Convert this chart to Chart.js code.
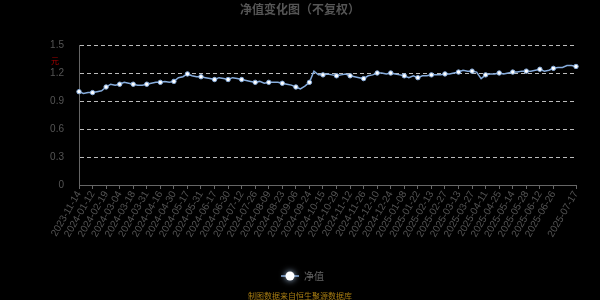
<!DOCTYPE html>
<html>
<head>
<meta charset="utf-8">
<script src="https://cdn.jsdelivr.net/npm/chart.js@4.4.1/dist/chart.umd.min.js"></script>
<style>
  html, body { margin: 0; padding: 0; background: #000; }
  #wrap { width: 600px; height: 300px; position: relative; }
</style>
</head>
<body>
<div id="wrap"><canvas id="myChart" width="600" height="300"></canvas></div>
<script>
// datas (uma a cada ponto da linha)
const datas = [
  '2023-11-14', '2023-12-05', '2023-12-22',
  '2024-01-12', '2024-01-25', '2024-02-05',
  '2024-02-19', '2024-02-23', '2024-02-28',
  '2024-03-04', '2024-03-08', '2024-03-13',
  '2024-03-18', '2024-03-22', '2024-03-27',
  '2024-03-31', '2024-04-07', '2024-04-11',
  '2024-04-16', '2024-04-21', '2024-04-25',
  '2024-04-30', '2024-05-09', '2024-05-13',
  '2024-05-17', '2024-05-22', '2024-05-27',
  '2024-05-31', '2024-06-05', '2024-06-12',
  '2024-06-17', '2024-06-21', '2024-06-26',
  '2024-06-30', '2024-07-04', '2024-07-08',
  '2024-07-12', '2024-07-17', '2024-07-22',
  '2024-07-26', '2024-07-31', '2024-08-05',
  '2024-08-09', '2024-08-14', '2024-08-19',
  '2024-08-23', '2024-08-28', '2024-09-02',
  '2024-09-06', '2024-09-11', '2024-09-19',
  '2024-09-24', '2024-09-27', '2024-10-10',
  '2024-10-15', '2024-10-18', '2024-10-24',
  '2024-10-29', '2024-11-01', '2024-11-07',
  '2024-11-12', '2024-11-15', '2024-11-21',
  '2024-11-26', '2024-11-29', '2024-12-05',
  '2024-12-10', '2024-12-13', '2024-12-19',
  '2024-12-24', '2024-12-27', '2025-01-03',
  '2025-01-08', '2025-01-13', '2025-01-17',
  '2025-01-22', '2025-02-05', '2025-02-10',
  '2025-02-13', '2025-02-18', '2025-02-24',
  '2025-02-27', '2025-03-04', '2025-03-07',
  '2025-03-13', '2025-03-18', '2025-03-21',
  '2025-03-27', '2025-04-01', '2025-04-07',
  '2025-04-11', '2025-04-16', '2025-04-21',
  '2025-04-25', '2025-05-06', '2025-05-09',
  '2025-05-14', '2025-05-19', '2025-05-23',
  '2025-05-28', '2025-06-04', '2025-06-09',
  '2025-06-12', '2025-06-17', '2025-06-20',
  '2025-06-26', '2025-06-30', '2025-07-03', '2025-07-08', '2025-07-11', '2025-07-17'
];

// datas que aparecem no eixo x
const rotulosX = [
  '2023-11-14', '2024-01-12', '2024-02-19', '2024-03-04', '2024-03-18', '2024-03-31',
  '2024-04-16', '2024-04-30', '2024-05-17', '2024-05-31', '2024-06-17', '2024-06-30',
  '2024-07-12', '2024-07-26', '2024-08-09', '2024-08-23', '2024-09-06', '2024-09-24',
  '2024-10-15', '2024-10-29', '2024-11-12', '2024-11-26', '2024-12-10', '2024-12-24',
  '2025-01-08', '2025-01-22', '2025-02-13', '2025-02-27', '2025-03-13', '2025-03-27',
  '2025-04-11', '2025-04-25', '2025-05-14', '2025-05-28', '2025-06-12', '2025-06-26',
  '2025-07-17'
];

// valores do patrimônio líquido (净值)
const valores = [
  1.00, 0.98, 0.99,
  0.99, 1.00, 1.01,
  1.05, 1.08, 1.07,
  1.08, 1.10, 1.09,
  1.08, 1.07, 1.07,
  1.08, 1.09, 1.10,
  1.10, 1.11, 1.10,
  1.11, 1.15, 1.16,
  1.19, 1.17, 1.16,
  1.16, 1.15, 1.14,
  1.13, 1.15, 1.14,
  1.13, 1.15, 1.14,
  1.13, 1.12, 1.11,
  1.10, 1.11, 1.09,
  1.10, 1.10, 1.10,
  1.09, 1.08, 1.07,
  1.05, 1.03, 1.06,
  1.10, 1.22, 1.18,
  1.18, 1.19, 1.18,
  1.17, 1.18, 1.19,
  1.17, 1.16, 1.15,
  1.14, 1.17, 1.18,
  1.20, 1.20, 1.19,
  1.20, 1.19, 1.18,
  1.17, 1.15, 1.17,
  1.15, 1.17, 1.17,
  1.18, 1.18, 1.18,
  1.19, 1.19, 1.20,
  1.21, 1.23, 1.22,
  1.22, 1.21, 1.14,
  1.18, 1.19, 1.19,
  1.20, 1.19, 1.20,
  1.21, 1.21, 1.22,
  1.22, 1.22, 1.23,
  1.24, 1.22, 1.23,
  1.25, 1.26, 1.26, 1.28, 1.28, 1.27
];

const ticksY = [0, 0.3, 0.6, 0.9, 1.2, 1.5];

const corLinha = '#86acdc';

// textos extras: título, unidade, legenda e fonte
const textosExtras = {
  id: 'textosExtras',
  afterDraw(chart) {
    const c = chart.ctx;
    c.save();
    c.textAlign = 'center';
    c.textBaseline = 'middle';
    c.fillStyle = '#555';
    c.font = 'bold 12px "Noto Sans CJK SC", sans-serif';
    c.fillText('净值变化图（不复权）', 300, 9);

    c.fillStyle = '#a00';
    c.font = '8px "Noto Sans CJK SC", sans-serif';
    c.fillText('元', 55, 61);

    // legenda
    c.strokeStyle = corLinha;
    c.lineWidth = 1.5;
    c.beginPath();
    c.moveTo(281, 276);
    c.lineTo(299, 276);
    c.stroke();
    c.shadowColor = 'rgba(190,220,255,0.9)';
    c.shadowBlur = 6;
    c.fillStyle = '#fff';
    c.beginPath();
    c.arc(290, 276, 4.5, 0, Math.PI * 2);
    c.fill();
    c.shadowBlur = 0;
    c.fillStyle = '#666';
    c.textAlign = 'left';
    c.font = '10px "Noto Sans CJK SC", sans-serif';
    c.fillText('净值', 304, 276);

    c.textAlign = 'center';
    c.fillStyle = '#a87d12';
    c.font = '8px "Noto Sans CJK SC", sans-serif';
    c.fillText('制图数据来自恒生聚源数据库', 300, 296);
    c.restore();
  }
};

const ctx = document.getElementById('myChart');

const myChart = new Chart(ctx, {
  type: 'line',
  data: {
    labels: datas,
    datasets: [{
      label: '净值',
      data: valores,
      borderColor: corLinha,
      borderWidth: 1.5,
      pointRadius: c => (rotulosX.includes(datas[c.dataIndex]) ? 2.2 : 0),
      pointBackgroundColor: '#fff',
      pointBorderColor: corLinha,
      pointBorderWidth: 1,
      tension: 0
    }]
  },
  options: {
    responsive: false,
    animation: false,
    layout: { padding: { top: 45, right: 24, left: 0, bottom: 0 } },
    plugins: { legend: { display: false }, tooltip: { enabled: false } },
    scales: {
      x: {
        ticks: {
          autoSkip: false,
          minRotation: 60,
          maxRotation: 60,
          color: '#555',
          font: { size: 10, family: 'Liberation Sans' },
          padding: 0
        },
        afterBuildTicks: s => {
          s.ticks = s.ticks.filter(t => rotulosX.includes(datas[t.value]));
        },
        afterFit: s => { s.height = 115; },
        grid: { drawOnChartArea: false, drawTicks: true, tickLength: 4, color: '#666' },
        border: { color: '#666' }
      },
      y: {
        min: 0,
        max: 1.5,
        afterBuildTicks: s => { s.ticks = ticksY.map(v => ({ value: v })); },
        afterFit: s => { s.width = 79; },
        ticks: {
          color: '#555',
          font: { size: 10, family: 'Liberation Sans' },
          padding: 15,
          callback: v => String(v)
        },
        grid: { color: '#bbb', drawTicks: false },
        border: { color: '#666', dash: [4, 3] }
      }
    }
  },
  plugins: [textosExtras]
});
</script>
</body>
</html>
